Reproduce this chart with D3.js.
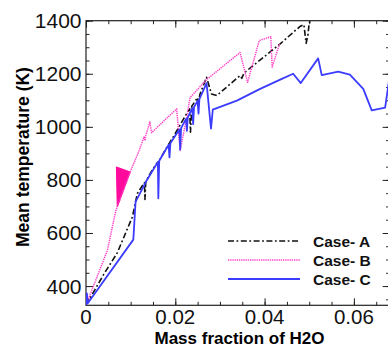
<!DOCTYPE html>
<html>
<head>
<meta charset="utf-8">
<script src="https://cdn.jsdelivr.net/npm/d3@7"></script>
<style>
  body { margin: 0; background: #fff; }
  svg { display: block; font-family: "Liberation Sans", Arial, sans-serif; }
</style>
</head>
<body>
<div id="chart"></div>
<script>
// series: [mass fraction of H2O, mean temperature K]
const caseA = [
  [0, 328], [0.004, 445], [0.007, 525], [0.0104, 661], [0.0115, 749],
  [0.0131, 790], [0.0132, 726], [0.0134, 795],
  [0.0150, 842], [0.0160, 865], [0.0162, 835], [0.0164, 872],
  [0.0180, 920], [0.0200, 975], [0.0215, 1020],
  [0.0232, 1068], [0.0234, 980], [0.0237, 1078],
  [0.0250, 1110], [0.0252, 1085], [0.0255, 1122],
  [0.0270, 1187], [0.0281, 1124], [0.0293, 1118],
  [0.0345, 1193], [0.0349, 1183], [0.0354, 1203],
  [0.0416, 1287], [0.0435, 1313], [0.0479, 1378],
  [0.0488, 1385], [0.0493, 1315], [0.0497, 1345], [0.0500, 1392], [0.0503, 1400]
];
const caseB = [
  [0, 328], [0.0048, 535], [0.0067, 686], [0.0070, 698], [0.0099, 830],
  [0.0119, 911], [0.0130, 962], [0.0132, 948], [0.0134, 968], [0.0143, 1018],
  [0.0147, 978], [0.0203, 1068], [0.0211, 911], [0.0226, 1040], [0.0233, 1110],
  [0.0270, 1178], [0.0345, 1280], [0.0362, 1168], [0.0388, 1325], [0.0414, 1340],
  [0.0417, 1225], [0.0431, 1300], [0.0434, 1312]
];
// dense oscillation of case B that shows as a filled wedge
const caseBBurst = [[0.0070, 698], [0.0068, 849], [0.0099, 830]];
const caseC = [
  [0, 328], [0.0002, 372], [0.0004, 335],
  [0.0106, 575], [0.0111, 717], [0.0136, 798],
  [0.0161, 868], [0.0162, 731], [0.0164, 872],
  [0.0185, 932], [0.0187, 885], [0.0189, 938],
  [0.0209, 990], [0.0211, 915], [0.0213, 995],
  [0.0224, 1030], [0.0226, 985], [0.0228, 1036],
  [0.0238, 1070], [0.0240, 1010], [0.0242, 1075],
  [0.0250, 1098], [0.0252, 1050], [0.0254, 1104],
  [0.0270, 1165], [0.0280, 993], [0.0284, 1065],
  [0.0338, 1099], [0.0390, 1143], [0.0435, 1178], [0.0464, 1200],
  [0.0481, 1165], [0.0520, 1258], [0.0528, 1195], [0.0565, 1208],
  [0.0591, 1197], [0.0621, 1143], [0.0640, 1062], [0.0670, 1072], [0.0680, 1190]
];
const seriesNames = ['Case- A', 'Case- B', 'Case- C'];
const xTicks = [0, 0.02, 0.04, 0.06];
const yTicks = [400, 600, 800, 1000, 1200, 1400];

const W = 388, H = 347;
const margin = { top: 20.7, left: 86, right: 389.6, bottom: 305.3 };

const svg = d3.select('#chart').append('svg')
  .attr('width', W).attr('height', H);

const x = d3.scaleLinear().domain([0, 0.068]).range([margin.left, margin.right]);
const y = d3.scaleLinear().domain([327.5, 1400]).range([margin.bottom, margin.top]);

svg.append('clipPath').attr('id', 'plot')
  .append('rect')
  .attr('x', margin.left).attr('y', margin.top)
  .attr('width', margin.right - margin.left)
  .attr('height', margin.bottom - margin.top);

// minor + major ticks, all pointing into the plot
const xMinor = d3.range(0, 0.0681, 0.005);
const yMinor = d3.range(350, 1401, 50);

function tickAxis(axis, g) {
  g.call(axis);
  g.select('.domain').remove();
  g.selectAll('line').attr('stroke', '#222');
}

tickAxis(d3.axisTop(x).tickValues(xMinor).tickSize(3.5).tickFormat(''),
  svg.append('g').attr('transform', 'translate(0,' + margin.bottom + ')'));
tickAxis(d3.axisTop(x).tickValues(xTicks).tickSize(7).tickFormat(''),
  svg.append('g').attr('transform', 'translate(0,' + margin.bottom + ')'));
tickAxis(d3.axisBottom(x).tickValues(xMinor).tickSize(3.5).tickFormat(''),
  svg.append('g').attr('transform', 'translate(0,' + margin.top + ')'));
tickAxis(d3.axisBottom(x).tickValues(xTicks).tickSize(7).tickFormat(''),
  svg.append('g').attr('transform', 'translate(0,' + margin.top + ')'));
tickAxis(d3.axisRight(y).tickValues(yMinor).tickSize(3.5).tickFormat(''),
  svg.append('g').attr('transform', 'translate(' + margin.left + ',0)'));
tickAxis(d3.axisRight(y).tickValues(yTicks).tickSize(7).tickFormat(''),
  svg.append('g').attr('transform', 'translate(' + margin.left + ',0)'));
tickAxis(d3.axisLeft(y).tickValues(yMinor).tickSize(3.5).tickFormat(''),
  svg.append('g').attr('transform', 'translate(' + margin.right + ',0)'));
tickAxis(d3.axisLeft(y).tickValues(yTicks).tickSize(7).tickFormat(''),
  svg.append('g').attr('transform', 'translate(' + margin.right + ',0)'));

// frame
svg.append('rect')
  .attr('x', margin.left).attr('y', margin.top)
  .attr('width', margin.right - margin.left)
  .attr('height', margin.bottom - margin.top)
  .attr('fill', 'none').attr('stroke', '#222').attr('stroke-width', 1.2);

// tick labels
svg.append('g').selectAll('text').data(xTicks).enter().append('text')
  .attr('x', d => x(d)).attr('y', 324)
  .attr('text-anchor', 'middle').attr('font-size', 20.5).attr('fill', '#111')
  .text(d => d === 0 ? '0' : d3.format('.2f')(d));

svg.append('g').selectAll('text').data(yTicks).enter().append('text')
  .attr('x', 81.5).attr('y', d => y(d) + 7.5)
  .attr('text-anchor', 'end').attr('font-size', 21).attr('fill', '#111')
  .text(d => d);

// axis titles
svg.append('text')
  .attr('x', 239.5).attr('y', 344)
  .attr('text-anchor', 'middle').attr('font-size', 17).attr('font-weight', 'bold')
  .text('Mass fraction of H2O');

svg.append('text')
  .attr('transform', 'translate(29,157) rotate(-90)')
  .attr('text-anchor', 'middle').attr('font-size', 17.5).attr('font-weight', 'bold')
  .text('Mean temperature (K)');

// series
const line = d3.line().x(d => x(d[0])).y(d => y(d[1]));
const styles = [
  { color: '#111', width: 1.6, dash: '6,2.5,1.8,2.5' },
  { color: '#ff3fc8', width: 1.5, dash: '1.3,0.9' },
  { color: '#3c3cff', width: 1.8, dash: null }
];
const plot = svg.append('g').attr('clip-path', 'url(#plot)');

plot.append('path').datum(caseBBurst)
  .attr('d', d => line(d) + 'Z')
  .attr('fill', '#ff0a9d').attr('stroke', '#ff0a9d').attr('stroke-width', 1);

[caseA, caseB, caseC].forEach((data, i) => {
  plot.append('path').datum(data)
    .attr('d', line)
    .attr('fill', 'none')
    .attr('stroke', styles[i].color)
    .attr('stroke-width', styles[i].width)
    .attr('stroke-linejoin', 'round')
    .attr('stroke-dasharray', styles[i].dash);
});

// legend
const legend = svg.append('g');
seriesNames.forEach((name, i) => {
  const ly = 241 + i * 19;
  legend.append('line')
    .attr('x1', 228).attr('x2', 300).attr('y1', ly).attr('y2', ly)
    .attr('stroke', styles[i].color)
    .attr('stroke-width', styles[i].width)
    .attr('stroke-dasharray', styles[i].dash);
  legend.append('text')
    .attr('x', 313).attr('y', ly + 5.5)
    .attr('font-size', 15.5).attr('font-weight', 'bold').attr('fill', '#111')
    .text(name);
});
</script>
</body>
</html>
